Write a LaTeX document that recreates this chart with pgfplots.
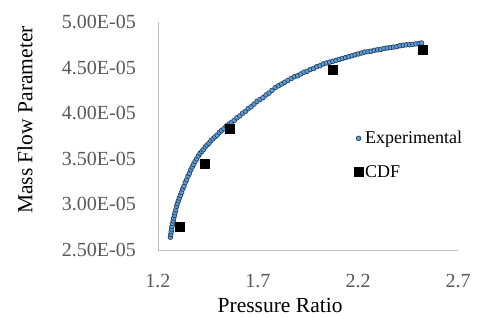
\documentclass[border=0pt]{standalone}
\usepackage{pgfplots}
\pgfplotsset{compat=1.18}
\usepackage{fontspec}
\setmainfont{Liberation Serif}
\definecolor{ticklab}{HTML}{595959}
\definecolor{axline}{HTML}{BFBFBF}
\definecolor{expfill}{RGB}{91,155,213}
\definecolor{expedge}{RGB}{30,52,82}
\begin{document}
\begin{tikzpicture}
\useasboundingbox (-158bp,-68bp) rectangle (319bp,250bp);
\begin{axis}[
  at={(0,0)}, anchor=south west,
  scale only axis, width=300bp, height=228bp,
  xmin=1.2, xmax=2.7, ymin=2.5e-5, ymax=5e-5,
  axis x line*=bottom, axis y line*=left,
  axis line style={draw=axline, line width=0.8bp},
  separate axis lines,
  x axis line style={-}, y axis line style={-},
  xtick={1.2,1.7,2.2,2.7}, xticklabels={1.2,1.7,2.2,2.7},
  ytick={2.5e-5,3e-5,3.5e-5,4e-5,4.5e-5,5e-5},
  yticklabels={2.50E-05,3.00E-05,3.50E-05,4.00E-05,4.50E-05,5.00E-05},
  scaled y ticks=false, scaled x ticks=false,
  major tick length=0pt,
  tick label style={text=ticklab, font=\fontsize{20bp}{24bp}\selectfont, inner sep=0pt},
  xticklabel style={anchor=base, yshift=-37bp},
  yticklabel style={anchor=east, xshift=-22bp},
  xlabel={Pressure Ratio}, ylabel={Mass Flow Parameter},
  label style={font=\fontsize{21.5bp}{25bp}\selectfont, text=black, inner sep=0pt},
  xlabel style={at={(axis description cs:0.407,-0.272)}, anchor=base},
  ylabel style={at={(axis description cs:-0.443,0.57)}, anchor=center},
  clip=false,
  legend style={at={(rel axis cs:0.653,0.530)}, anchor=north west, draw=none, fill=none,
    font=\fontsize{18bp}{20bp}\selectfont, row sep=16bp, inner sep=0pt,
    /tikz/every even column/.append style={column sep=2bp}},
  legend cell align=left,
]
\addplot[only marks, mark=*, mark size=2.4bp, mark options={fill=expfill, draw=expedge, line width=0.55bp}] table {
x y
1.262 2.64e-5
1.264 2.67e-5
1.266 2.70e-5
1.268 2.73e-5
1.270 2.76e-5
1.273 2.79e-5
1.276 2.82e-5
1.279 2.85e-5
1.282 2.88e-5
1.285 2.91e-5
1.289 2.94e-5
1.293 2.98e-5
1.297 3.01e-5
1.302 3.04e-5
1.307 3.07e-5
1.312 3.10e-5
1.318 3.13e-5
1.324 3.17e-5
1.330 3.20e-5
1.336 3.24e-5
1.343 3.27e-5
1.350 3.31e-5
1.357 3.34e-5
1.364 3.38e-5
1.371 3.41e-5
1.378 3.44e-5
1.385 3.47e-5
1.393 3.50e-5
1.401 3.53e-5
1.410 3.56e-5
1.419 3.58e-5
1.427 3.60e-5
1.436 3.63e-5
1.445 3.65e-5
1.455 3.67e-5
1.465 3.70e-5
1.475 3.72e-5
1.485 3.74e-5
1.496 3.76e-5
1.507 3.79e-5
1.518 3.81e-5
1.530 3.83e-5
1.542 3.86e-5
1.555 3.88e-5
1.568 3.90e-5
1.581 3.92e-5
1.595 3.95e-5
1.609 3.97e-5
1.623 4.00e-5
1.637 4.02e-5
1.651 4.05e-5
1.665 4.07e-5
1.680 4.10e-5
1.695 4.13e-5
1.710 4.15e-5
1.725 4.17e-5
1.740 4.20e-5
1.755 4.22e-5
1.770 4.25e-5
1.786 4.28e-5
1.802 4.30e-5
1.818 4.32e-5
1.834 4.34e-5
1.850 4.36e-5
1.866 4.38e-5
1.882 4.40e-5
1.898 4.41e-5
1.914 4.43e-5
1.930 4.45e-5
1.946 4.46e-5
1.962 4.48e-5
1.978 4.49e-5
1.994 4.51e-5
2.010 4.52e-5
2.026 4.54e-5
2.042 4.55e-5
2.058 4.56e-5
2.074 4.57e-5
2.090 4.58e-5
2.106 4.59e-5
2.122 4.60e-5
2.138 4.61e-5
2.154 4.62e-5
2.170 4.63e-5
2.186 4.64e-5
2.202 4.65e-5
2.218 4.66e-5
2.234 4.67e-5
2.250 4.675e-5
2.266 4.68e-5
2.282 4.69e-5
2.298 4.695e-5
2.314 4.70e-5
2.330 4.71e-5
2.346 4.715e-5
2.362 4.72e-5
2.378 4.725e-5
2.394 4.73e-5
2.410 4.74e-5
2.426 4.745e-5
2.442 4.75e-5
2.458 4.75e-5
2.474 4.755e-5
2.490 4.76e-5
2.506 4.765e-5
2.518 4.77e-5
};
\addlegendentry{Experimental}
\addplot[only marks, mark=square*, mark size=4.5bp, mark options={fill=black, draw=black}] table {
x y
1.310 2.76e-5
1.436 3.45e-5
1.560 3.83e-5
2.073 4.48e-5
2.522 4.70e-5
};
\addlegendentry{CDF}
\end{axis}
\end{tikzpicture}
\end{document}
